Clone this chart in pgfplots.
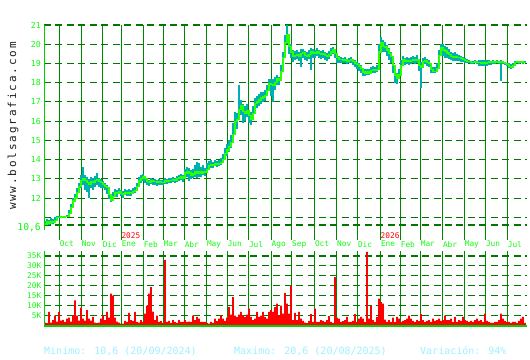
\documentclass[border=0pt]{standalone}
\usepackage{pgfplots}
\pgfplotsset{compat=1.18}
\usepackage{pgfplotstable}
\usepackage{fontspec}
\newfontfamily\mono{DejaVu Sans Mono}
\newfontfamily\wm[LetterSpace=17]{DejaVu Sans Mono}
\definecolor{lbl}{RGB}{20,250,20}
\definecolor{axl}{RGB}{0,210,0}
\definecolor{gridd}{RGB}{0,120,0}
\definecolor{gridv}{RGB}{0,135,0}
\definecolor{tealc}{RGB}{0,175,175}
\definecolor{closec}{RGB}{40,255,0}
\definecolor{cyanl}{RGB}{160,240,255}
\definecolor{volr}{RGB}{255,0,0}
\definecolor{wmc}{RGB}{30,30,30}
\tikzset{griddash/.style={dash pattern=on 7pt off 4.5pt}}

\pgfplotstableread{
x c h l
45 10.65 10.80 10.60
47 10.75 10.90 10.62
49 10.70 10.85 10.60
51 10.80 10.95 10.65
53 10.75 10.90 10.65
55 10.85 11.00 10.70
57 11.00 11.05 10.95
59 11.00 11.05 10.95
61 11.02 11.07 10.97
63 11.00 11.05 10.95
65 11.03 11.08 10.98
67 11.05 11.10 11.00
69 11.20 11.40 11.05
71 11.50 11.70 11.30
73 11.85 12.00 11.50
75 12.00 12.20 11.80
77 12.30 12.50 12.00
79 12.60 12.80 12.30
81 12.90 13.20 12.50
83 13.00 13.60 12.70
85 12.90 13.20 12.40
87 12.80 13.10 12.30
89 12.70 13.00 12.00
91 12.85 13.10 12.50
93 12.80 13.05 12.40
95 12.90 13.15 12.60
97 12.95 13.30 12.70
99 12.85 13.05 12.60
101 12.80 13.00 12.55
103 12.70 12.90 12.50
105 12.60 12.80 12.40
107 12.55 12.70 12.20
109 12.20 12.40 11.95
111 11.90 12.15 11.80
113 12.10 12.30 11.90
115 12.30 12.45 12.15
117 12.25 12.40 12.05
119 12.35 12.50 12.20
121 12.25 12.40 12.10
123 12.20 12.35 12.00
125 12.30 12.45 12.15
127 12.25 12.40 12.10
129 12.30 12.45 12.10
131 12.25 12.40 12.10
133 12.35 12.50 12.20
135 12.40 12.60 12.25
137 12.60 12.80 12.40
139 12.90 13.10 12.70
141 13.00 13.20 12.80
143 13.10 13.25 12.90
145 13.00 13.15 12.80
147 12.85 13.00 12.70
149 12.80 12.95 12.65
151 12.90 13.05 12.75
153 12.85 13.00 12.70
155 12.85 13.00 12.70
157 12.80 12.95 12.65
159 12.85 13.00 12.70
161 12.80 12.95 12.70
163 12.80 12.95 12.70
165 12.90 13.05 12.75
167 12.85 13.00 12.75
169 12.90 13.05 12.80
171 12.90 13.05 12.80
173 12.95 13.10 12.85
175 12.90 13.05 12.80
177 13.00 13.15 12.85
179 13.05 13.20 12.90
181 13.10 13.25 12.95
183 13.00 13.20 12.85
185 13.30 13.50 13.05
187 13.40 13.60 13.10
189 13.30 13.55 12.90
191 13.20 13.45 13.00
193 13.25 13.50 13.05
195 13.35 13.70 13.10
197 13.30 13.90 13.05
199 13.35 13.85 13.10
201 13.30 13.60 13.10
203 13.40 13.70 13.20
205 13.35 13.55 13.15
207 13.50 13.80 13.30
209 13.70 13.95 13.45
211 13.75 14.00 13.55
213 13.70 13.90 13.55
215 13.80 14.00 13.65
217 13.75 13.95 13.60
219 13.80 14.00 13.65
221 13.85 14.10 13.70
223 14.00 14.30 13.80
225 14.30 14.60 14.00
227 14.50 14.80 14.20
229 14.70 15.00 14.40
231 14.90 15.30 14.60
233 15.30 15.90 15.00
235 16.00 16.50 15.60
237 16.10 16.40 15.60
239 16.60 17.90 16.20
241 16.80 17.10 16.30
243 16.50 16.90 15.90
245 16.40 16.80 16.00
247 16.55 16.90 16.20
249 16.30 16.60 15.90
251 16.10 16.50 15.80
253 16.40 16.80 16.10
255 16.90 17.20 16.50
257 17.00 17.30 16.70
259 17.10 17.40 16.80
261 17.20 17.50 16.90
263 17.25 17.50 17.00
265 17.35 17.60 17.05
267 17.60 17.90 17.30
269 17.95 18.20 17.60
271 17.90 18.20 17.30
273 17.85 18.20 17.00
275 18.00 18.30 17.60
277 18.20 18.40 17.90
279 18.10 18.30 17.90
281 18.60 18.90 18.30
283 19.30 19.60 18.90
285 20.10 20.50 19.70
287 20.50 21.00 20.00
289 19.90 20.40 19.50
291 19.60 20.00 19.30
293 19.35 19.70 19.10
295 19.40 19.65 19.20
297 19.45 19.70 19.25
299 19.35 19.60 19.15
301 19.50 19.75 18.80
303 19.55 19.75 19.30
305 19.40 19.65 19.20
307 19.35 19.60 19.15
309 19.45 19.70 19.25
311 19.60 19.80 18.65
313 19.55 19.75 19.30
315 19.50 19.70 19.30
317 19.60 19.80 19.40
319 19.50 19.70 19.30
321 19.45 19.65 19.25
323 19.50 19.70 19.30
325 19.40 19.60 19.20
327 19.35 19.55 19.15
329 19.45 19.65 19.25
331 19.60 19.80 19.40
333 19.70 19.85 19.50
335 19.50 19.70 19.30
337 19.30 19.50 19.00
339 19.20 19.40 19.00
341 19.20 19.35 19.05
343 19.15 19.30 19.00
345 19.20 19.35 19.05
347 19.10 19.25 18.95
349 19.15 19.30 19.00
351 19.20 19.35 19.05
353 19.10 19.25 18.90
355 19.00 19.20 18.80
357 18.95 19.10 18.70
359 18.85 19.00 18.60
361 18.75 18.90 18.50
363 18.55 18.75 18.35
365 18.50 18.70 18.35
367 18.55 18.70 18.40
369 18.50 18.70 18.40
371 18.65 18.80 18.45
373 18.70 18.85 18.50
375 18.65 18.80 18.50
377 18.70 18.90 18.55
379 19.60 20.00 19.20
381 20.10 20.40 19.70
383 19.90 20.20 19.60
385 19.85 20.10 19.60
387 19.70 19.95 19.40
389 19.50 19.80 19.20
391 19.35 19.60 19.00
393 18.90 19.30 18.50
395 18.40 18.70 18.00
397 18.20 18.50 17.95
399 18.40 18.70 18.20
401 18.90 19.20 18.60
403 19.20 19.40 19.00
405 19.10 19.30 18.90
407 19.15 19.35 18.95
409 19.10 19.30 18.90
411 19.15 19.35 18.95
413 19.20 19.40 19.00
415 19.15 19.35 18.95
417 19.20 19.45 19.00
419 18.90 19.20 18.60
421 18.80 19.10 17.70
423 19.10 19.30 18.80
425 19.15 19.35 18.95
427 19.05 19.25 18.85
429 19.00 19.20 18.80
431 18.70 18.90 18.50
433 18.60 18.80 18.50
435 18.60 18.80 18.50
437 18.75 19.00 18.60
439 19.40 19.70 19.00
441 19.80 20.00 19.40
443 19.70 20.00 19.40
445 19.65 19.90 19.30
447 19.55 19.85 19.30
449 19.45 19.75 19.25
451 19.35 19.60 19.20
453 19.30 19.55 19.15
455 19.35 19.60 19.15
457 19.30 19.50 19.15
459 19.30 19.45 19.15
461 19.25 19.40 19.10
463 19.20 19.35 19.10
465 19.15 19.30 19.05
467 19.10 19.25 19.00
469 19.10 19.20 19.00
471 19.05 19.15 18.95
473 19.05 19.15 18.95
475 19.10 19.20 19.00
477 19.05 19.15 18.95
479 19.05 19.20 18.85
481 19.00 19.20 18.85
483 19.05 19.20 18.85
485 19.00 19.20 18.85
487 19.05 19.20 18.85
489 19.10 19.20 18.90
491 19.05 19.15 18.90
493 19.10 19.20 18.95
495 19.05 19.15 18.95
497 19.10 19.20 19.00
499 19.05 19.15 18.95
501 19.10 19.20 18.10
503 19.05 19.15 18.95
505 19.00 19.10 18.90
507 18.95 19.05 18.85
509 18.85 19.00 18.75
511 18.80 18.95 18.70
513 18.90 19.00 18.80
515 19.05 19.15 18.95
517 19.10 19.15 19.05
519 19.05 19.10 19.00
521 19.10 19.15 19.05
523 19.05 19.10 19.00
525 19.10 19.15 19.05
}\price

\pgfplotstableread{
x v
45 1.5
47 1.2
49 6.8
51 1.5
53 2.7
55 5
57 2
59 6.8
61 2.5
63 2.8
65 1.8
67 3.5
69 4
71 2
73 5
75 12.7
77 5
79 2.5
81 9
83 3.5
85 2.5
87 7.7
89 3.5
91 2.5
93 4.3
95 1.5
97 1.2
99 1.5
101 3.5
103 5
105 2.7
107 6.8
109 4
111 16
113 15
115 4
117 2
119 1.5
121 1
123 1
125 2.3
127 1.8
129 6.3
131 2.7
133 2.3
135 6.8
137 1.8
139 1.5
141 2.7
143 1.8
145 6
147 10
149 16
151 19.3
153 7
155 2.7
157 5
159 1.8
161 2.2
163 1.3
165 33
167 1.8
169 2.3
171 1.3
173 2.7
175 1.8
177 1.3
179 2.7
181 1.8
183 1.8
185 2.7
187 1.8
189 2
191 1.8
193 5
195 2.7
197 4.3
199 3.5
201 1.8
203 1.8
205 1.8
207 1.3
209 1
211 1.8
213 1.3
215 3.5
217 2.2
219 3.5
221 5
223 3.5
225 2.3
227 4
229 9.3
231 5.5
233 14.3
235 5
237 4.3
239 5.5
241 6.8
243 5
245 4.3
247 5.5
249 8.5
251 4.3
253 2.7
255 3.5
257 6.8
259 4.3
261 5
263 6.8
265 4.3
267 3.5
269 6.8
271 7.7
273 6.8
275 9.3
277 11
279 5
281 10
283 6
285 16.3
287 11
289 6
291 19.8
293 2.7
295 6.3
297 2.7
299 6.8
301 3.5
303 2.3
305 1.5
307 1.2
309 2.3
311 5.7
313 1.8
315 8.5
317 1.8
319 1.8
321 2.7
323 2.3
325 1.8
327 2.7
329 4.7
331 1.8
333 1.3
335 24.3
337 4
339 3.5
341 1.8
343 2.2
345 2.7
347 4.3
349 1.8
351 1.8
353 2.3
355 5.7
357 1.8
359 3.5
361 4.3
363 3.5
365 1.8
367 37
369 3.5
371 9.7
373 2.7
375 1.8
377 4.3
379 13.5
381 11.8
383 11
385 3
387 1.8
389 2.7
391 1.8
393 4
395 1.8
397 4.3
399 3.5
401 1.8
403 2.3
405 2.7
407 3.5
409 5
411 3.5
413 2.3
415 1.8
417 2.7
419 2.2
421 5.7
423 2.7
425 1.8
427 2.3
429 2.7
431 1.8
433 3.5
435 2.3
437 2.7
439 3.5
441 2.3
443 2.7
445 5
447 2.7
449 2.7
451 3.5
453 1.8
455 4.3
457 1.8
459 2.7
461 2.3
463 4.3
465 2.7
467 2.3
469 1.8
471 2.3
473 1.8
475 2.7
477 3.5
479 2.3
481 2.7
483 1.8
485 6
487 2.3
489 1.8
491 1.3
493 1.3
495 1.8
497 1.8
499 2.7
501 6
503 3.5
505 2.3
507 1.8
509 1.8
511 1.3
513 1.8
515 1.8
517 1.3
519 2.3
521 3.5
523 4.3
525 1.3
}\vol

\def\monthticks{59.3,81.3,102.3,121.3,143.3,163.3,184.3,206.5,227.3,248.5,271.2,291.7,314.5,336.7,357.5,380.5,400.3,420.3,442.5,464.3,485.5,507.3}

\begin{document}
\begin{tikzpicture}
\useasboundingbox[fill=white] (0,0) rectangle (530bp,-360bp);

% main price chart
\begin{axis}[
  at={(44bp,-240bp)}, anchor=south west,
  scale only axis, width=483bp, height=215bp,
  xmin=44, xmax=527, ymin=9.82, ymax=21,
  clip=false,
  axis line style={draw=none},
  major tick length=0pt,
  xtick/.expanded=\monthticks,
  xticklabels={Oct,Nov,Dic,Ene,Feb,Mar,Abr,May,Jun,Jul,Ago,Sep,Oct,Nov,Dic,Ene,Feb,Mar,Abr,May,Jun,Jul},
  xticklabel style={anchor=north west, inner sep=0pt, xshift=0.3bp, yshift=-1bp,
    font=\mono\fontsize{7.8bp}{8bp}\selectfont, text=lbl},
  ytick={12,13,14,15,16,17,18,19,20,21},
  yticklabels={12,13,14,15,16,17,18,19,20,21},
  yticklabel style={anchor=east, inner sep=0pt, xshift=-3bp,
    font=\mono\fontsize{8.3bp}{9bp}\selectfont, text=lbl},
  extra y ticks={10.6,11},
  extra y tick labels={{10,6},{}},
  extra y tick style={grid=major, yticklabel style={font=\mono\fontsize{9.7bp}{10bp}\selectfont, yshift=-2.5bp}},
  xmajorgrids, ymajorgrids,
  x grid style={gridv, line width=1.1pt, solid},
  y grid style={gridd, line width=1.1pt, griddash},
]
\addplot[draw=none, mark=none, forget plot,
  error bars/.cd, y dir=both, y explicit, error mark=none,
  error bar style={draw=tealc, line width=2.1pt, solid}]
  table[x=x, y=c, y error plus expr=\thisrow{h}-\thisrow{c}, y error minus expr=\thisrow{c}-\thisrow{l}] {\price};
\addplot[closec, line width=1.3pt, mark=none, const plot] table[x=x, y=c] {\price};
\node[anchor=south west, inner sep=0pt, yshift=1bp, text=red, font=\mono\fontsize{7.8bp}{8bp}\selectfont] at (axis cs:121.3,9.82) {2025};
\node[anchor=south west, inner sep=0pt, yshift=1bp, text=red, font=\mono\fontsize{7.8bp}{8bp}\selectfont] at (axis cs:380.5,9.82) {2026};
\end{axis}
\draw[axl, line width=1bp] (44bp,-25bp) -- (44bp,-230bp);

% volume chart
\begin{axis}[
  at={(44bp,-325.5bp)}, anchor=south west,
  scale only axis, width=483bp, height=74.5bp,
  xmin=44, xmax=527, ymin=0, ymax=37.5,
  axis line style={draw=none},
  major tick length=0pt,
  xtick/.expanded=\monthticks,
  xticklabels={},
  ytick={5,10,15,20,25,30,35},
  yticklabels={5K,10K,15K,20K,25K,30K,35K},
  yticklabel style={anchor=east, inner sep=0pt, xshift=-2.5bp,
    font=\mono\fontsize{7.8bp}{8bp}\selectfont, text=lbl},
  xmajorgrids, ymajorgrids,
  x grid style={gridv, line width=1.1pt, solid},
  y grid style={gridd, line width=1.1pt, griddash},
]
\addplot[ybar, bar width=1.7bp, fill=volr, draw=none] table[x=x, y=v] {\vol};
\end{axis}
\draw[axl, line width=2bp] (44bp,-326bp) -- (527bp,-326bp);
\draw[axl, line width=1bp] (44bp,-251bp) -- (44bp,-326bp);

% watermark
\node[rotate=90, text=wmc, inner sep=0pt, font=\wm\fontsize{11bp}{11bp}\selectfont] at (13bp,-126bp) {www.bolsagrafica.com};

% bottom texts
\node[anchor=west, inner sep=0pt, text=cyanl, font=\mono\fontsize{10bp}{10bp}\selectfont] at (44bp,-351bp) {Minimo: 10,6 (20/09/2024)};
\node[anchor=west, inner sep=0pt, text=cyanl, font=\mono\fontsize{10bp}{10bp}\selectfont] at (234bp,-351bp) {Maximo: 20,6 (20/08/2025)};
\node[anchor=west, inner sep=0pt, text=cyanl, font=\mono\fontsize{10bp}{10bp}\selectfont] at (420bp,-351bp) {Variación: 94\%};
\end{tikzpicture}
\end{document}
